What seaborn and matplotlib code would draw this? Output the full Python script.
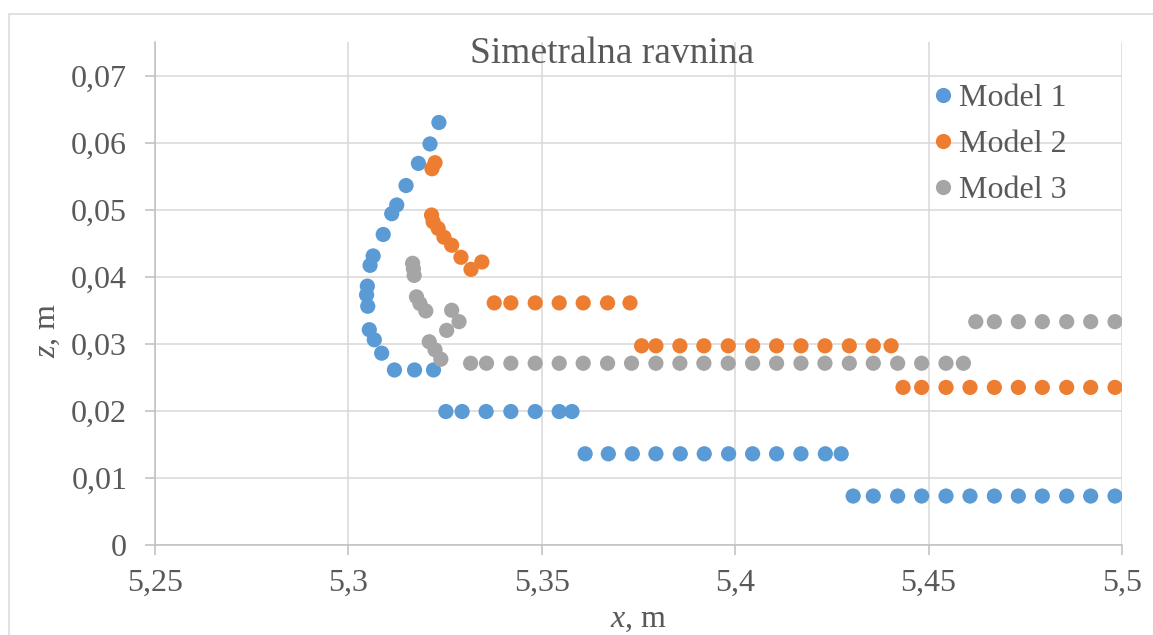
import numpy as np
import pandas as pd
import matplotlib
matplotlib.use('Agg')
import matplotlib.pyplot as plt
import seaborn as sns
from matplotlib.ticker import FuncFormatter
from matplotlib.patches import Rectangle

# Podaci ocitani s grafa
m1_x = [5.3234, 5.3211, 5.3181, 5.3149, 5.3125, 5.3112, 5.3090, 5.3064, 5.3056, 5.3049,
        5.3047, 5.3050, 5.3054, 5.3067, 5.3086, 5.3119, 5.3171, 5.3220,
        5.3252, 5.3294, 5.3356, 5.3420, 5.3483, 5.3545, 5.3578,
        5.3612, 5.3672, 5.3734, 5.3795, 5.3858, 5.3920, 5.3983, 5.4045, 5.4107, 5.4170, 5.4233, 5.4274,
        5.4305, 5.4357, 5.4420, 5.4482, 5.4545, 5.4607, 5.4670, 5.4732, 5.4794, 5.4857, 5.4919, 5.4982]
m1_z = [0.0630, 0.0598, 0.0569, 0.0536, 0.0507, 0.0494, 0.0463, 0.0431, 0.0417, 0.0386,
        0.0373, 0.0356, 0.0321, 0.0306, 0.0286, 0.0261, 0.0261, 0.0261,
        0.0199, 0.0199, 0.0199, 0.0199, 0.0199, 0.0199, 0.0199,
        0.0136, 0.0136, 0.0136, 0.0136, 0.0136, 0.0136, 0.0136, 0.0136, 0.0136, 0.0136, 0.0136, 0.0136,
        0.0073, 0.0073, 0.0073, 0.0073, 0.0073, 0.0073, 0.0073, 0.0073, 0.0073, 0.0073, 0.0073, 0.0073]

m2_x = [5.3224, 5.3216, 5.3215, 5.3219, 5.3232, 5.3247, 5.3267, 5.3291, 5.3317, 5.3345,
        5.3377, 5.3420, 5.3483, 5.3545, 5.3607, 5.3670, 5.3728,
        5.3758, 5.3795, 5.3857, 5.3919, 5.3982, 5.4045, 5.4107, 5.4170, 5.4232, 5.4295, 5.4357, 5.4403,
        5.4434, 5.4482, 5.4545, 5.4607, 5.4670, 5.4732, 5.4794, 5.4857, 5.4919, 5.4982]
m2_z = [0.0570, 0.0561, 0.0492, 0.0482, 0.0472, 0.0459, 0.0447, 0.0429, 0.0411, 0.0422,
        0.0361, 0.0361, 0.0361, 0.0361, 0.0361, 0.0361, 0.0361,
        0.0297, 0.0297, 0.0297, 0.0297, 0.0297, 0.0297, 0.0297, 0.0297, 0.0297, 0.0297, 0.0297, 0.0297,
        0.0235, 0.0235, 0.0235, 0.0235, 0.0235, 0.0235, 0.0235, 0.0235, 0.0235, 0.0235]

m3_x = [5.3166, 5.3168, 5.3170, 5.3176, 5.3185, 5.3200, 5.3267, 5.3286, 5.3254, 5.3209, 5.3224, 5.3239,
        5.3316, 5.3357, 5.3420, 5.3483, 5.3545, 5.3607, 5.3670, 5.3732, 5.3795, 5.3857, 5.3919,
        5.3982, 5.4045, 5.4107, 5.4170, 5.4232, 5.4295, 5.4357, 5.4420, 5.4482, 5.4545, 5.4590,
        5.4622, 5.4670, 5.4732, 5.4794, 5.4857, 5.4919, 5.4982]
m3_z = [0.0420, 0.0412, 0.0402, 0.0370, 0.0360, 0.0349, 0.0350, 0.0333, 0.0320, 0.0303, 0.0291, 0.0277,
        0.0271, 0.0271, 0.0271, 0.0271, 0.0271, 0.0271, 0.0271, 0.0271, 0.0271, 0.0271, 0.0271,
        0.0271, 0.0271, 0.0271, 0.0271, 0.0271, 0.0271, 0.0271, 0.0271, 0.0271, 0.0271, 0.0271,
        0.0333, 0.0333, 0.0333, 0.0333, 0.0333, 0.0333, 0.0333]

series_names = ['Model 1', 'Model 2', 'Model 3']
colors = ['#5B9BD5', '#ED7D31', '#A5A5A5']
x_ticks = [5.25, 5.3, 5.35, 5.4, 5.45, 5.5]
z_ticks = [0, 0.01, 0.02, 0.03, 0.04, 0.05, 0.06, 0.07]

df = pd.concat([
    pd.DataFrame({'x': m1_x, 'z': m1_z, 'model': series_names[0]}),
    pd.DataFrame({'x': m2_x, 'z': m2_z, 'model': series_names[1]}),
    pd.DataFrame({'x': m3_x, 'z': m3_z, 'model': series_names[2]}),
], ignore_index=True)

sns.set_style('white')
plt.rcParams['font.family'] = ['Liberation Serif', 'DejaVu Serif']
plt.rcParams['mathtext.fontset'] = 'custom'
plt.rcParams['mathtext.rm'] = 'Liberation Serif'
plt.rcParams['mathtext.it'] = 'Liberation Serif:italic'

txt_color = '#595959'
fs = 23

fig = plt.figure(figsize=(11.53, 6.35), dpi=100)
ax = fig.add_axes([155 / 1153, 90 / 635, (1122 - 155) / 1153, (545 - 42) / 635])

sns.scatterplot(data=df, x='x', y='z', hue='model', palette=dict(zip(series_names, colors)),
                s=120, linewidth=0, ax=ax, zorder=3)

ax.set_xlim(5.25, 5.5)
ax.set_ylim(0, 0.075)
ax.set_xticks(x_ticks)
ax.set_yticks(z_ticks)

comma = FuncFormatter(lambda v, p: ('%g' % round(v, 4)).replace('.', ','))
ax.xaxis.set_major_formatter(comma)
ax.yaxis.set_major_formatter(comma)

ax.grid(True, color='#D9D9D9', linewidth=1.1)
ax.set_axisbelow(True)
for side in ['top', 'right']:
    ax.spines[side].set_visible(False)
for side in ['left', 'bottom']:
    ax.spines[side].set_color('#BFBFBF')
    ax.spines[side].set_linewidth(1.1)

ax.tick_params(axis='x', direction='out', length=7, width=1.1, color='#BFBFBF',
               labelsize=fs, labelcolor=txt_color, pad=10, bottom=True)
ax.tick_params(axis='y', direction='out', length=7, width=1.1, color='#BFBFBF',
               labelsize=fs, labelcolor=txt_color, pad=13, left=True)

ax.set_xlabel('$x$, m', fontsize=fs, color=txt_color, labelpad=5)
ax.set_ylabel('')
fig.text(48 / 1153, 1 - 330 / 635, '$z$, m', fontsize=fs, color=txt_color,
         rotation=90, ha='center', va='center')

fig.text(612 / 1153, 1 - 63 / 635, 'Simetralna ravnina', fontsize=27, color=txt_color,
         ha='center', va='baseline')

leg = ax.legend(loc='upper left', bbox_to_anchor=(914 / 1153, 1 - 71 / 635),
                bbox_transform=fig.transFigure, frameon=False, fontsize=fs,
                handlelength=1.0, handletextpad=0.0, labelspacing=0.52, borderaxespad=0)
for t in leg.get_texts():
    t.set_color(txt_color)

# okvir grafikona
fig.patches.append(Rectangle((9 / 1153, -0.1), 1.2, 1.1 - 14 / 635, transform=fig.transFigure,
                             fill=False, edgecolor='#D9D9D9', linewidth=1.1))

fig.savefig('out.png', dpi=100)
